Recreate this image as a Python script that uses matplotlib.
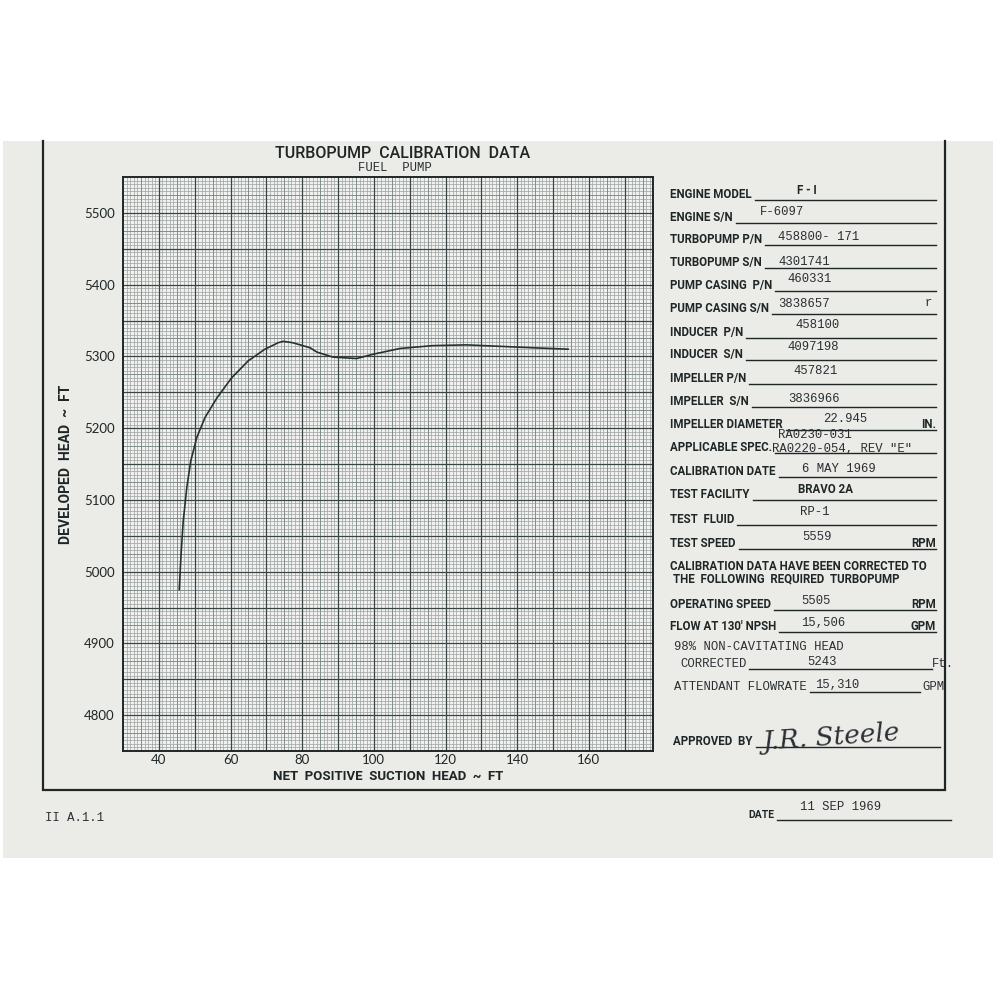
import numpy as np
import matplotlib.pyplot as plt
from matplotlib.patches import Rectangle

# Fuel pump curve
npsh = [45.7, 46.2, 46.8, 47.8, 48.9, 50.6, 52.9, 56.2, 60.3, 65.0, 69.6, 73.3, 74.7,
        77.4, 82.2, 84.1, 88.6, 95.2, 99.8, 107.3, 116.5, 125.9, 135.2, 144.4, 154.2]
head = [4975, 5024, 5070, 5117, 5154, 5187, 5215, 5242, 5270, 5294, 5310, 5319, 5321,
        5319, 5312, 5306, 5299, 5297, 5303, 5311, 5315, 5316, 5314, 5312, 5310]

x_ticks = [40, 60, 80, 100, 120, 140, 160]
y_ticks = [4800, 4900, 5000, 5100, 5200, 5300, 5400, 5500]

# form on the right
form_labels = ['ENGINE MODEL', 'ENGINE S/N', 'TURBOPUMP P/N', 'TURBOPUMP S/N',
               'PUMP CASING  P/N', 'PUMP CASING S/N', 'INDUCER  P/N', 'INDUCER  S/N',
               'IMPELLER P/N', 'IMPELLER  S/N', 'IMPELLER DIAMETER', 'APPLICABLE SPEC.',
               'CALIBRATION DATE', 'TEST FACILITY', 'TEST  FLUID', 'TEST SPEED']
form_values = ['F - I', 'F-6097', '458800- 171', '4301741', '460331', '3838657',
               '458100', '4097198', '457821', '3836966', '22.945',
               'RA0220-054, REV "E"', '6 MAY 1969', 'BRAVO 2A', 'RP-1', '5559']
form_units = ['', '', '', '', '', '', '', '', '', '', 'IN.', '', '', '', '', 'RPM']

corr_labels = ['OPERATING SPEED', "FLOW AT 130' NPSH"]
corr_values = ['5505', '15,506']
corr_units = ['RPM', 'GPM']

# layout (pixel positions on the sheet, y measured from top)
row_y = [198, 221, 243, 266, 289, 312, 336, 358, 382, 405, 428, 451, 475, 498, 523, 547]
val_x = [797, 760, 778, 778, 787, 778, 795, 787, 793, 788, 823, 772, 802, 798, 800, 802]
val_y = [194, 215, 240, 265, 282, 307, 328, 350, 374, 402, 422, 452, 472, 493, 515, 540]

INK = '#1f2626'
LABEL = dict(family=['Roboto', 'DejaVu Sans'], weight='bold', fontsize=8.3, color=INK)
TYPED = dict(family=['Liberation Mono', 'DejaVu Sans Mono'], fontsize=8.8, color='#2a2f33')

fig = plt.figure(figsize=(10, 10), dpi=100)
fig.patch.set_facecolor('white')

# sheet overlay in pixel coords
sheet = fig.add_axes([0, 0, 1, 1], zorder=0)
sheet.set_xlim(0, 1000)
sheet.set_ylim(1000, 0)
sheet.axis('off')
sheet.add_patch(Rectangle((3, 141), 990, 717, facecolor='#ebebe8', edgecolor='none'))
sheet.plot([43, 43, 945, 945], [141, 790, 790, 141], color=INK, lw=1.6,
           solid_joinstyle='miter')

# graph paper plot
ax = fig.add_axes([0.123, 0.249, 0.530, 0.574], zorder=1)
xmin, xmax, ymin, ymax = 30, 177.9, 4750, 5550
ax.set_xlim(xmin, xmax)
ax.set_ylim(ymin, ymax)
ax.set_facecolor('#f1f2f0')

ax.vlines(np.arange(31, 178, 1), ymin, ymax, colors='#9ca2a2', lw=0.5)
ax.hlines(np.arange(4755, 5550, 5), xmin, xmax, colors='#9ca2a2', lw=0.5)
ax.vlines(np.arange(35, 178, 10), ymin, ymax, colors='#7a8484', lw=0.55)
ax.hlines(np.arange(4775, 5550, 50), xmin, xmax, colors='#7a8484', lw=0.55)
ax.vlines(np.arange(40, 178, 10), ymin, ymax, colors='#3a4444', lw=0.9)
ax.hlines(np.arange(4800, 5550, 50), xmin, xmax, colors='#3a4444', lw=0.9)

ax.plot(npsh, head, color='#263232', lw=1.2, zorder=5)

for s in ax.spines.values():
    s.set_color(INK)
    s.set_linewidth(1.4)

ax.set_xticks(x_ticks)
ax.set_yticks(y_ticks)
ax.set_xticklabels([str(v) for v in x_ticks], family=['Lato', 'DejaVu Sans'], fontsize=9.5, color=INK)
ax.set_yticklabels([str(v) for v in y_ticks], family=['Lato', 'DejaVu Sans'], fontsize=9.5, color=INK)
ax.tick_params(axis='x', length=0, pad=2)
ax.tick_params(axis='y', length=0, pad=6)
ax.set_xlabel('NET  POSITIVE  SUCTION  HEAD  ~  FT', family=['Roboto', 'DejaVu Sans'],
              weight='bold', fontsize=9.5, color=INK, labelpad=3)
ax.set_ylabel('DEVELOPED  HEAD  ~  FT', family=['Roboto', 'DejaVu Sans'],
              weight='bold', fontsize=10, color=INK, labelpad=8)

sheet.text(403, 158, 'TURBOPUMP  CALIBRATION  DATA', family=['Roboto', 'DejaVu Sans'],
           weight='medium', fontsize=11.5, color=INK, ha='center', va='baseline')
sheet.text(395, 171, 'FUEL  PUMP', **TYPED, ha='center', va='baseline')

renderer = fig.canvas.get_renderer()


def underline(t, y, x_end):
    bb = t.get_window_extent(renderer)
    sheet.plot([bb.x1 + 3, x_end], [y + 1.5, y + 1.5], color=INK, lw=1.0)


for i, lab in enumerate(form_labels):
    t = sheet.text(670, row_y[i], lab, **LABEL, va='baseline')
    underline(t, row_y[i], 936)
    if form_values[i] in ('F - I', 'BRAVO 2A'):
        sheet.text(val_x[i], val_y[i], form_values[i], **LABEL, va='baseline')
    else:
        sheet.text(val_x[i], val_y[i], form_values[i], **TYPED, va='baseline')
    if form_units[i]:
        sheet.text(936, row_y[i], form_units[i], **LABEL, ha='right', va='baseline')

sheet.text(778, 438, 'RA0230-031', **TYPED, va='baseline')
sheet.text(925, 306, 'r', **TYPED, va='baseline')

sheet.text(670, 570, 'CALIBRATION DATA HAVE BEEN CORRECTED TO', **LABEL, va='baseline')
sheet.text(673, 582, 'THE  FOLLOWING  REQUIRED  TURBOPUMP', **LABEL, va='baseline')

corr_y = [608, 630]
for i, lab in enumerate(corr_labels):
    t = sheet.text(670, corr_y[i], lab, **LABEL, va='baseline')
    underline(t, corr_y[i], 936)
    sheet.text(801, corr_y[i] - 4, corr_values[i], **TYPED, va='baseline')
    sheet.text(936, corr_y[i], corr_units[i], **LABEL, ha='right', va='baseline')

sheet.text(674, 650, '98% NON-CAVITATING HEAD', **TYPED, va='baseline')
t = sheet.text(680, 667, 'CORRECTED', **TYPED, va='baseline')
underline(t, 667, 932)
sheet.text(807, 665, '5243', **TYPED, va='baseline')
sheet.text(932, 667, 'Ft.', **TYPED, va='baseline')
t = sheet.text(674, 690, 'ATTENDANT FLOWRATE', **TYPED, va='baseline')
underline(t, 690, 920)
sheet.text(815, 688, '15,310', **TYPED, va='baseline')
sheet.text(922, 690, 'GPM', **TYPED, va='baseline')

t = sheet.text(673, 745, 'APPROVED  BY', **LABEL, va='baseline')
underline(t, 745, 940)
sheet.text(762, 750, 'J.R. Steele', family=['DejaVu Serif'], style='italic',
           fontsize=19, color='#2a2f33', va='baseline', rotation=4)

# footer
sheet.text(45, 821, 'II A.1.1', **TYPED, va='baseline')
t = sheet.text(748, 818, 'DATE', family=['Roboto', 'DejaVu Sans'], weight='bold',
               fontsize=7.5, color=INK, va='baseline')
underline(t, 818, 951)
sheet.text(800, 810, '11 SEP 1969', **TYPED, va='baseline')

fig.savefig('out.png', dpi=100)
